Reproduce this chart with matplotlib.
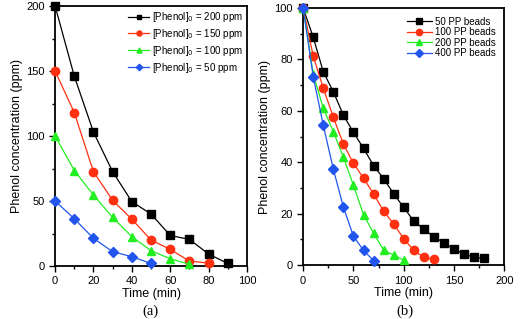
import matplotlib
matplotlib.use("Agg")
import matplotlib.pyplot as plt
from matplotlib.ticker import MultipleLocator

plt.rcParams['font.family'] = ['Liberation Sans', 'DejaVu Sans']

# (a) effect of initial phenol concentration
time_a = [0, 10, 20, 30, 40, 50, 60, 70, 80, 90]
phenol_200 = [200, 146, 103, 72.5, 49.5, 40, 23.5, 20.5, 9.2, 2]
phenol_150 = [150, 118, 72.5, 50.5, 36, 20, 12.8, 3.8, 2.3]
phenol_100 = [100, 73.5, 54.6, 37.4, 22.6, 11.8, 5.6, 1.3]
phenol_50 = [50, 36.4, 21.3, 11, 7.2, 2]

# (b) effect of number of PP beads
time_b = list(range(0, 190, 10))
beads_50 = [100, 88.6, 75.2, 67.4, 58.3, 51.6, 45.4, 38.7, 33.6, 27.7,
            22.4, 17.1, 14, 10.9, 8.7, 6.1, 4.3, 3, 2.6]
beads_100 = [100, 81.3, 68.8, 57.5, 47, 39.6, 33.8, 27.7, 20.9, 16,
             10.2, 5.7, 3, 2.2]
beads_200 = [100, 74.3, 61, 51.9, 41.9, 31, 19.6, 12.4, 5.8, 3.9, 1.9]
beads_400 = [100, 73.3, 54.4, 37.3, 22.5, 11.2, 5.7, 1.7]

colors = ['black', '#ff3010', '#22ee22', '#2255ee']
markers = ['s', 'o', '^', 'D']
msizes = [5.5, 6, 6, 5.5]

fig = plt.figure(figsize=(5.2, 3.19), dpi=100)
ax1 = fig.add_axes([0.106, 0.166, 0.369, 0.815])
ax2 = fig.add_axes([0.583, 0.169, 0.387, 0.806])

series_a = [phenol_200, phenol_150, phenol_100, phenol_50]
labels_a = ['[Phenol]$_0$ = 200 ppm', '[Phenol]$_0$ = 150 ppm',
            '[Phenol]$_0$ = 100 ppm', '[Phenol]$_0$ = 50 ppm']
for y, c, m, ms, lab in zip(series_a, colors, markers, msizes, labels_a):
    ax1.plot(time_a[:len(y)], y, color=c, marker=m, markersize=ms, lw=0.9,
             label=lab, clip_on=False, zorder=3)

series_b = [beads_50, beads_100, beads_200, beads_400]
labels_b = ['50 PP beads', '100 PP beads', '200 PP beads', '400 PP beads']
for y, c, m, ms, lab in zip(series_b, colors, markers, msizes, labels_b):
    ax2.plot(time_b[:len(y)], y, color=c, marker=m, markersize=ms, lw=0.9,
             label=lab, clip_on=False, zorder=3)

ax1.set_xlim(0, 100)
ax1.set_ylim(0, 200)
ax1.xaxis.set_major_locator(MultipleLocator(20))
ax1.xaxis.set_minor_locator(MultipleLocator(10))
ax1.yaxis.set_major_locator(MultipleLocator(50))
ax1.yaxis.set_minor_locator(MultipleLocator(25))

ax2.set_xlim(0, 200)
ax2.set_ylim(0, 100)
ax2.xaxis.set_major_locator(MultipleLocator(50))
ax2.xaxis.set_minor_locator(MultipleLocator(25))
ax2.yaxis.set_major_locator(MultipleLocator(20))
ax2.yaxis.set_minor_locator(MultipleLocator(10))

for ax in (ax1, ax2):
    for s in ax.spines.values():
        s.set_linewidth(1.3)
    ax.tick_params(which='major', direction='out', length=4, width=1, labelsize=8)
    ax.tick_params(which='minor', direction='out', length=2.5, width=1)
    ax.set_xlabel('Time (min)', fontsize=9, labelpad=1)
    ax.set_ylabel('Phenol concentration (ppm)', fontsize=9, labelpad=2)

ax1.legend(loc='upper right', frameon=False, fontsize=7, handlelength=2.2,
           labelspacing=0.3, borderaxespad=0.2, handletextpad=0.3,
           markerscale=0.6, borderpad=0.2)
ax2.legend(loc='upper right', frameon=False, fontsize=7, handlelength=2.6,
           labelspacing=0.05, borderaxespad=0.6, handletextpad=0.3,
           markerscale=0.75, borderpad=0.3)

fig.text(0.29, 0.024, '(a)', ha='center', va='center', fontsize=10.5,
         family='Liberation Serif')
fig.text(0.778, 0.024, '(b)', ha='center', va='center', fontsize=10.5,
         family='Liberation Serif')

fig.savefig('out.png', dpi=100)
